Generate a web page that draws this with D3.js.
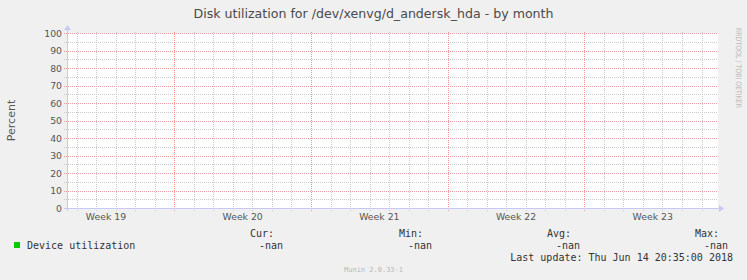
<!DOCTYPE html>
<html>
<head>
<meta charset="utf-8">
<script src="https://cdn.jsdelivr.net/npm/d3@7"></script>
<style>
  html, body { margin: 0; padding: 0; background: #f0f0f0; }
  svg { display: block; }
  text { font-family: "DejaVu Sans", sans-serif; }
  .mono { font-family: "DejaVu Sans Mono", monospace; }
</style>
</head>
<body>
<svg id="chart" width="747" height="280"></svg>
<script>
const title = "Disk utilization for /dev/xenvg/d_andersk_hda - by month";
const yLabel = "Percent";
const weekLabels = ["Week 19", "Week 20", "Week 21", "Week 22", "Week 23"];
const weekStarts = ["2018-05-07", "2018-05-14", "2018-05-21", "2018-05-28", "2018-06-04"];
const yTicks = [0, 10, 20, 30, 40, 50, 60, 70, 80, 90, 100];
const yMinor = [5, 15, 25, 35, 45, 55, 65, 75, 85, 95];
// no samples in the rrd, every value is nan
const utilization = [];
const seriesName = "Device utilization";
const legendHeads = ["Cur:", "Min:", "Avg:", "Max:"];
const legendValues = ["-nan", "-nan", "-nan", "-nan"];
const lastUpdate = "Last update: Thu Jun 14 20:35:00 2018";
const footer = "Munin 2.0.33-1";

const svg = d3.select("#chart");
const W = 747, H = 280;
const plotL = 67, plotR = 718, plotT = 33, plotB = 208;

const parse = s => { const p = s.split("-").map(Number); return new Date(p[0], p[1] - 1, p[2]); };
const start = new Date(2018, 4, 8, 12, 6);
const end = new Date(2018, 5, 10, 20, 15);

const x = d3.scaleTime().domain([start, end]).range([plotL, plotR]);
const y = d3.scaleLinear().domain([0, 100]).range([plotB, plotT]);

svg.append("rect").attr("width", W).attr("height", H).attr("fill", "#f0f0f0");
svg.append("rect").attr("x", plotL).attr("y", plotT).attr("width", plotR - plotL).attr("height", plotB - plotT).attr("fill", "#ffffff");

const grid = svg.append("g").attr("shape-rendering", "crispEdges");
const mondays = d3.timeMonday.range(start, end);
const mondayKeys = new Set(mondays.map(d => +d));

// minor grid
grid.selectAll(".hminor").data(yMinor).join("line")
  .attr("x1", plotL - 3).attr("x2", plotR)
  .attr("y1", d => Math.round(y(d)) + 0.5).attr("y2", d => Math.round(y(d)) + 0.5)
  .attr("stroke", "#cacaca").attr("stroke-dasharray", "1,1");

const days = d3.timeDay.range(d3.timeDay.ceil(start), end).filter(d => !mondayKeys.has(+d));
grid.selectAll(".vminor").data(days).join("line")
  .attr("x1", d => Math.round(x(d)) + 0.5).attr("x2", d => Math.round(x(d)) + 0.5)
  .attr("y1", plotT - 1).attr("y2", plotB + 3)
  .attr("stroke", "#cacaca").attr("stroke-dasharray", "1,1");

// major grid
grid.selectAll(".hmajor").data(yTicks.filter(d => d > 0)).join("line")
  .attr("x1", plotL - 3).attr("x2", plotR)
  .attr("y1", d => Math.round(y(d)) + 0.5).attr("y2", d => Math.round(y(d)) + 0.5)
  .attr("stroke", "#e6a0a0").attr("stroke-dasharray", "1,1");

grid.selectAll(".vmajor").data(mondays).join("line")
  .attr("x1", d => Math.round(x(d)) + 0.5).attr("x2", d => Math.round(x(d)) + 0.5)
  .attr("y1", plotT - 1).attr("y2", plotB + 4)
  .attr("stroke", "#ff9090").attr("stroke-dasharray", "1,1");

// series (nothing drawn since there are no values)
const line = d3.line().defined(d => d.v != null && !isNaN(d.v)).x(d => x(d.t)).y(d => y(d.v));
svg.append("path").datum(utilization).attr("d", line).attr("fill", "none").attr("stroke", "#00cc00");

// axes
const axisColor = "#c8c8f4";
svg.append("line").attr("x1", plotL - 3).attr("x2", plotR + 2)
  .attr("y1", plotB + 0.5).attr("y2", plotB + 0.5)
  .attr("stroke", axisColor).attr("shape-rendering", "crispEdges");
svg.append("line").attr("x1", plotL + 0.5).attr("x2", plotL + 0.5)
  .attr("y1", plotT - 3).attr("y2", plotB + 3)
  .attr("stroke", axisColor).attr("shape-rendering", "crispEdges");
svg.append("path").attr("d", `M${plotR + 1},${plotB - 3}L${plotR + 6},${plotB + 0.5}L${plotR + 1},${plotB + 4}Z`).attr("fill", axisColor);
svg.append("path").attr("d", `M${plotL - 3},${plotT - 3}L${plotL + 0.5},${plotT - 8}L${plotL + 4},${plotT - 3}Z`).attr("fill", axisColor);

// y tick labels
svg.selectAll(".ytick").data(yTicks).join("text")
  .attr("x", plotL - 5).attr("y", d => y(d) + 3.5)
  .attr("text-anchor", "end").attr("font-size", 9.3).attr("fill", "#555")
  .text(d => d);

// week labels
svg.selectAll(".wlabel").data(weekLabels).join("text")
  .attr("x", (d, i) => x(d3.timeHour.offset(parse(weekStarts[i]), 84)))
  .attr("y", 220)
  .attr("text-anchor", "middle").attr("font-size", 9.3).attr("fill", "#555")
  .text(d => d);

// title and unit
svg.append("text").attr("x", W / 2).attr("y", 18).attr("text-anchor", "middle")
  .attr("font-size", 12.6).attr("fill", "#4a4a4a").text(title);
svg.append("text").attr("transform", `translate(15,${(plotT + plotB) / 2}) rotate(-90)`)
  .attr("text-anchor", "middle").attr("font-size", 11).attr("fill", "#555").text(yLabel);
svg.append("text").attr("transform", "translate(735.5,28) rotate(90)")
  .attr("font-size", 7.6).attr("fill", "#bdbdbd")
  .attr("textLength", 80).attr("lengthAdjust", "spacingAndGlyphs")
  .text("RRDTOOL / TOBI OETIKER");

// legend
svg.append("rect").attr("x", 14).attr("y", 242).attr("width", 6).attr("height", 6).attr("fill", "#00cc00");
svg.append("text").attr("class", "mono").attr("x", 27).attr("y", 248.5)
  .attr("font-size", 10).attr("fill", "#333").text(seriesName);
const colEnd = [274, 423, 571, 719];
svg.selectAll(".lhead").data(legendHeads).join("text").attr("class", "mono")
  .attr("x", (d, i) => colEnd[i]).attr("y", 236.5).attr("text-anchor", "end")
  .attr("font-size", 10).attr("fill", "#333").text(d => d);
svg.selectAll(".lval").data(legendValues).join("text").attr("class", "mono")
  .attr("x", (d, i) => colEnd[i] + 9).attr("y", 248.5).attr("text-anchor", "end")
  .attr("font-size", 10).attr("fill", "#333").text(d => d);
svg.append("text").attr("class", "mono").attr("x", 733).attr("y", 260.5).attr("text-anchor", "end")
  .attr("font-size", 10).attr("fill", "#333").style("white-space", "pre").text(lastUpdate);
svg.append("text").attr("class", "mono").attr("x", W / 2).attr("y", 272).attr("text-anchor", "middle")
  .attr("font-size", 7).attr("fill", "#b8b8b8").text(footer);
</script>
</body>
</html>
